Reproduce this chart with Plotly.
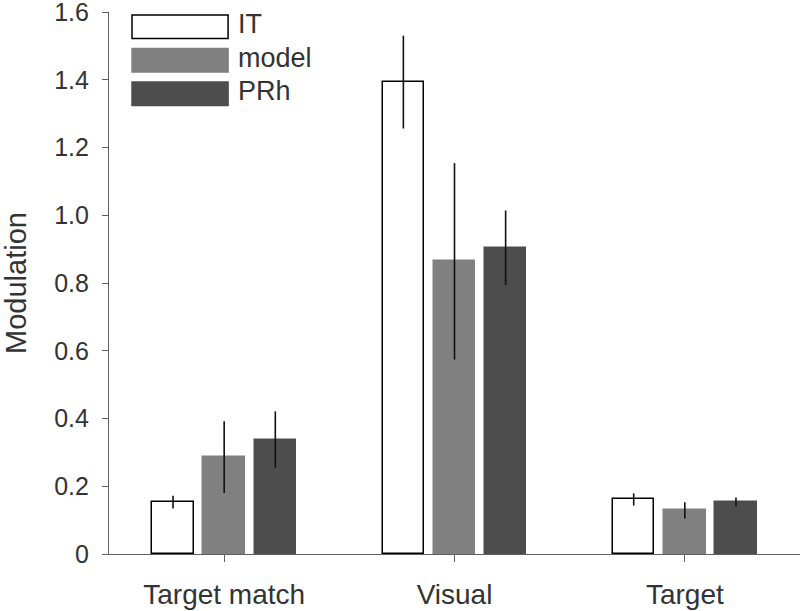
import plotly.graph_objects as go

categories = ["Target match", "Visual", "Target"]
series_names = ["IT", "model", "PRh"]

it_values = [0.153, 1.393, 0.161]
it_errors = [0.019, 0.137, 0.018]

model_values = [0.286, 0.864, 0.129]
model_errors = [0.106, 0.290, 0.024]

prh_values = [0.338, 0.904, 0.154]
prh_errors = [0.083, 0.110, 0.013]

y_ticks = [0, 0.2, 0.4, 0.6, 0.8, 1.0, 1.2, 1.4, 1.6]
y_tick_labels = ["0", "0.2", "0.4", "0.6", "0.8", "1.0", "1.2", "1.4", "1.6"]

fill_colors = ["white", "#808080", "#4d4d4d"]
line_colors = ["black", "#808080", "#4d4d4d"]
offsets = [-0.222, 0.0, 0.222]
bar_width = 0.18
text_color = "#333333"
axis_color = "#606060"
font_family = "Liberation Sans, Arial, sans-serif"

positions = list(range(1, len(categories) + 1))

fig = go.Figure()

for name, values, errors, fill, line, offset in zip(
    series_names,
    [it_values, model_values, prh_values],
    [it_errors, model_errors, prh_errors],
    fill_colors,
    line_colors,
    offsets,
):
    fig.add_trace(
        go.Bar(
            x=[p + offset for p in positions],
            y=values,
            width=bar_width,
            name=name,
            marker={"color": fill, "line": {"color": line, "width": 1.5}},
            error_y={
                "type": "data",
                "array": errors,
                "visible": True,
                "color": "#111111",
                "thickness": 1.6,
                "width": 0,
            },
            showlegend=False,
        )
    )

# legend drawn by hand to get the wide swatches
legend_top = 1.591
legend_step = 0.099
legend_box = 0.069
for i, (name, fill, line) in enumerate(zip(series_names, fill_colors, line_colors)):
    y_hi = legend_top - i * legend_step
    y_lo = y_hi - legend_box
    fig.add_shape(
        type="rect",
        xref="x",
        yref="y",
        x0=0.600,
        x1=1.017,
        y0=y_lo,
        y1=y_hi,
        fillcolor=fill,
        line={"color": line, "width": 1.5},
    )
    fig.add_annotation(
        x=1.052,
        y=(y_lo + y_hi) / 2 + 0.008,
        xref="x",
        yref="y",
        text=name,
        showarrow=False,
        xanchor="left",
        yanchor="middle",
        font={"size": 27, "color": text_color, "family": font_family},
    )

fig.update_layout(
    width=800,
    height=611,
    margin={"l": 109, "r": 0, "t": 12, "b": 57},
    plot_bgcolor="white",
    paper_bgcolor="white",
    font={"family": font_family, "color": text_color, "size": 25},
    bargap=0,
)

fig.update_xaxes(
    range=[0.5, 3.5],
    tickvals=positions,
    ticktext=categories,
    ticks="outside",
    ticklen=7,
    tickcolor=axis_color,
    showline=True,
    linecolor=axis_color,
    linewidth=1.2,
    showgrid=False,
    zeroline=False,
    automargin=False,
    ticklabelstandoff=8,
    ticklabeloverflow="allow",
    tickfont={"size": 28, "color": text_color},
)

fig.update_yaxes(
    range=[0, 1.6],
    tickvals=y_ticks,
    ticktext=y_tick_labels,
    ticks="outside",
    ticklen=6,
    tickcolor=axis_color,
    showline=True,
    linecolor=axis_color,
    linewidth=1.2,
    showgrid=False,
    zeroline=False,
    automargin=False,
    ticklabelstandoff=8,
    ticklabeloverflow="allow",
    tickfont={"size": 25, "color": text_color},
    title={"text": "Modulation", "font": {"size": 29, "color": text_color}, "standoff": 46},
)

# drop the page's default body margin so the figure sits at the window corner
fig.write_html(
    "out.html",
    config={"displayModeBar": False},
    post_script="document.body.style.margin = '0';",
)
